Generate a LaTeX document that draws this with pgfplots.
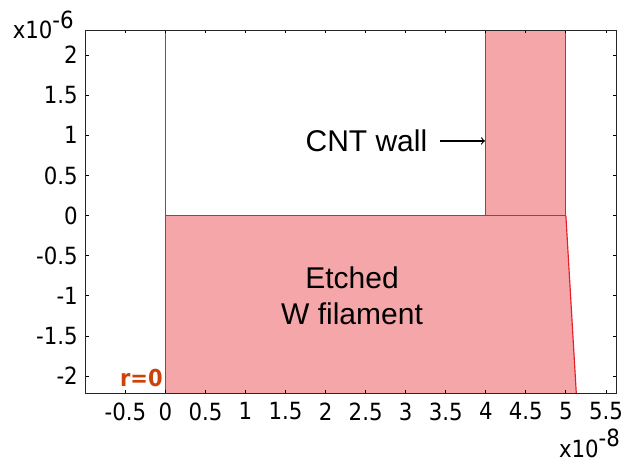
\documentclass[border=0pt]{standalone}
\usepackage{pgfplots}
\pgfplotsset{compat=1.18}
\usepackage{fontspec}
\setmainfont{Liberation Sans}
\newfontfamily\tickfont{DejaVu Sans Condensed}
\definecolor{fillpink}{RGB}{245,166,168}
\definecolor{edgered}{RGB}{232,30,40}
\definecolor{rzero}{RGB}{205,65,10}
\begin{document}
\begin{tikzpicture}
\begin{axis}[
  scale only axis,
  width=318.6pt, height=217.9pt,
  xmin=-1, xmax=5.63, ymin=-2.215, ymax=2.31,
  xtick={-0.5,0,0.5,1,1.5,2,2.5,3,3.5,4,4.5,5,5.5},
  ytick={-2,-1.5,-1,-0.5,0,0.5,1,1.5,2},
  xticklabels={-0.5,0,0.5,1,1.5,2,2.5,3,3.5,4,4.5,5,5.5},
  yticklabels={-2,-1.5,-1,-0.5,0,0.5,1,1.5,2},
  tick align=inside, major tick length=2pt,
  tick style={black, line width=0.5pt},
  ticklabel style={font=\tickfont\fontsize{14.2}{16}\selectfont},
  xticklabel style={yshift=-2pt},
  yticklabel style={xshift=-1pt},
  axis line style={line width=0.7pt, black!85},
  axis on top,
  clip mode=individual,
]
\addplot[fill=fillpink, draw=none] coordinates {(0,0) (5,0) (5.13,-2.215) (0,-2.215)} -- cycle;
\addplot[fill=fillpink, draw=none] coordinates {(4,0) (5,0) (5,2.31) (4,2.31)} -- cycle;
\addplot[edgered, line width=0.7pt] coordinates {(0,0) (5,0)};
\addplot[edgered, line width=0.7pt] coordinates {(5,0) (5.135,-2.3)};
\addplot[edgered, line width=0.7pt] coordinates {(4,0) (4,2.4)};
\addplot[edgered, line width=0.7pt] coordinates {(5,0) (5,2.4)};
\addplot[edgered, line width=0.7pt] coordinates {(0,-2.3) (0,2.4)};
\node[font=\fontsize{18}{20}\selectfont] at (axis cs:2.51,0.93) {CNT wall};
\draw[-to, line width=0.7pt] (axis cs:3.43,0.93) -- (axis cs:3.99,0.93);
\node[font=\fontsize{18}{22}\selectfont, align=center] at (axis cs:2.33,-1.0) {Etched\\W filament};
\node[font=\tickfont\bfseries\fontsize{14}{16}\selectfont, text=rzero, anchor=east, inner sep=0pt] at (axis cs:-0.03,-2.02) {r=0};
\node[font=\tickfont\fontsize{14.2}{16}\selectfont, anchor=base west, inner sep=0pt] at (axis cs:-1.91,2.2) {x10\raisebox{6.5pt}{-6}};
\node[font=\tickfont\fontsize{14.2}{16}\selectfont, anchor=base west, inner sep=0pt] at (axis cs:4.91,-3.01) {x10\raisebox{6.5pt}{-8}};
\end{axis}
\pgfresetboundingbox
\path[use as bounding box] (-51.2pt,-43.0pt) rectangle (323.8pt,236.0pt);
\end{tikzpicture}
\end{document}
